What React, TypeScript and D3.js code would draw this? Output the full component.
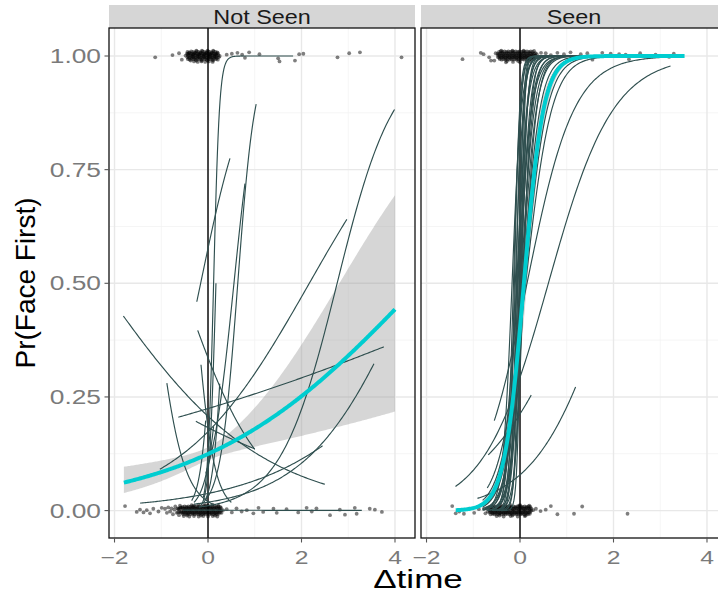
import React from "react";
import * as d3 from "d3";

const W = 718;
const H = 594;
const FONT = "'Liberation Sans', Arial, Helvetica, sans-serif";

const panelNames = ["Not Seen", "Seen"];
const xTicks = [-2, 0, 2, 4];
const xTickLabels = ["\u22122", "0", "2", "4"];
const xMinor = [-1, 1, 3];
const yTicks = [0, 0.25, 0.5, 0.75, 1];
const yTickLabels = ["0.00", "0.25", "0.50", "0.75", "1.00"];
const yMinor = [0.125, 0.375, 0.625, 0.875];

// population fit (logit scale) per panel
const fitIntercept = [-1.95, -0.4];
const fitSlope = [0.43, 4.8];
const fitXmin = [-1.8, -1.375];
const fitXmax = [4.0, 3.52];
const bandSe0 = [0.13, 0.32];
const bandSe1 = [0.26, 0.04];

// per-subject fits, Not Seen
const nsIntercept = [-1.91, -3.45, 0.31, -2.22, -4.53, -1.56, -1.34, -1.24, -1.5, -3.9, -0.68, -3.24, -3.97, -7.0, -2.38, -1.0, -2.2, -1.5, -3.2];
const nsSlope = [16, 5.42, 1.97, 4.0, 1.64, 0.72, -0.58, 0.177, -0.35, -3.36, -1.18, 0.59, 0.91, -0.3, 14, 8, 6, -5, 9];
const nsXmin = [-0.1, -0.05, -0.24, -0.05, -0.2, -1.03, -1.81, -0.635, -0.26, -0.88, -0.22, -1.45, -0.3, -0.53, -0.15, -0.35, -0.3, -0.15, -0.1];
const nsXmax = [1.82, 1.03, 0.47, 0.79, 3.99, 2.97, 2.5, 3.76, 1.0, 0.1, 1.0, 2.45, 3.55, 3.29, 0.17, -0.05, 0.12, 0.5, 0.25];

// per-subject fits, Seen
const sIntercept = [1.7, 1.96, 2.16, 1.2, 1.6, 0.63, 0.75, 0.44, 0.44, 0.08, 0, -0.1, -0.14, -0.48, -0.26, -0.45, -0.33, -0.84, -0.4, -0.42, -0.432, -0.5, 0.39, -0.675, -0.88, -0.3, -2.46, -1.31];
const sSlope = [10, 14, 18, 12, 20, 9, 15, 11, 22, 8, 13, 10, 7, 16, 6.5, 9, 5.5, 12, 5, 4.2, 3.6, 25, 6.5, 7.5, 1.45, 2.0, 1.24, 0.97];
const sXmin = [-0.75, -0.6, -0.55, -0.7, -0.5, -0.8, -0.6, -0.65, -0.45, -0.8, -0.6, -0.7, -0.75, -0.5, -0.8, -0.6, -0.75, -0.55, -0.7, -0.8, -0.7, -0.4, -0.8, -0.6, -1.38, -0.55, -0.91, -0.68];
const sXmax = [1.2, 1.6, 0.9, 2.0, 1.1, 1.5, 2.2, 1.3, 1.8, 2.5, 1.4, 1.9, 2.3, 1.7, 2.8, 2.1, 1.6, 2.6, 3.0, 2.4, 3.1, 1.0, 1.8, 2.0, 3.22, 3.3, 1.19, 0.24];

// jittered observations
const nsTopPts = [
  [-1.13, 0.997], [-0.76, 1.002], [-0.62, 1.006], [-0.56, 0.992], [0.4, 1.003], [0.51, 1.005], [0.63, 1.007], [0.73, 1.003], [0.79, 0.996], [0.88, 1.008], [1.1, 1.004], [1.5, 0.995], [1.53, 0.988], [1.86, 0.99], [1.95, 1.004], [2.04, 1.005], [2.77, 0.997], [3.02, 1.006], [3.25, 1.008], [4.14, 0.997],
  [-0.44, 1.009], [-0.4, 1.008], [-0.36, 1.01], [-0.32, 1.009], [-0.28, 1.008], [-0.24, 1.01], [-0.2, 1.009], [-0.16, 1.008], [-0.12, 1.01], [-0.08, 1.009], [-0.04, 1.008], [0.0, 1.01], [0.04, 1.009], [0.08, 1.008], [0.12, 1.01], [0.16, 1.009], [0.2, 1.008],
  [-0.48, 1.001], [-0.42, 1.0], [-0.38, 1.002], [-0.34, 1.001], [-0.3, 1.0], [-0.26, 1.002], [-0.22, 1.001], [-0.18, 1.0], [-0.14, 1.002], [-0.1, 1.001], [-0.06, 1.0], [-0.02, 1.002], [0.02, 1.001], [0.06, 1.0], [0.1, 1.002], [0.14, 1.001], [0.18, 1.0], [0.22, 1.002], [0.25, 1.0],
  [-0.43, 0.993], [-0.39, 0.992], [-0.35, 0.994], [-0.31, 0.993], [-0.27, 0.992], [-0.23, 0.994], [-0.19, 0.993], [-0.15, 0.992], [-0.11, 0.994], [-0.07, 0.993], [-0.03, 0.992], [0.01, 0.994], [0.05, 0.993], [0.09, 0.992], [0.13, 0.994], [0.17, 0.993], [0.21, 0.992],
  [-0.3, 0.988], [-0.22, 0.987], [-0.14, 0.988], [-0.06, 0.987], [0.02, 0.988], [0.1, 0.987], [-0.25, 1.012], [-0.13, 1.012], [-0.01, 1.012], [0.11, 1.012]
];
const nsTopDense = [
  [-0.45, 1.005], [-0.42, 1.005], [-0.39, 1.006], [-0.36, 1.005], [-0.33, 1.004], [-0.3, 1.005], [-0.27, 1.006], [-0.24, 1.005], [-0.21, 1.004], [-0.18, 1.005], [-0.15, 1.006], [-0.12, 1.005], [-0.09, 1.004], [-0.06, 1.005], [-0.03, 1.006], [0.0, 1.005], [0.03, 1.004], [0.06, 1.005], [0.09, 1.006], [0.12, 1.005], [0.15, 1.004], [0.18, 1.005], [0.21, 1.006],
  [-0.44, 0.997], [-0.41, 0.996], [-0.38, 0.997], [-0.35, 0.998], [-0.32, 0.997], [-0.29, 0.996], [-0.26, 0.997], [-0.23, 0.998], [-0.2, 0.997], [-0.17, 0.996], [-0.14, 0.997], [-0.11, 0.998], [-0.08, 0.997], [-0.05, 0.996], [-0.02, 0.997], [0.01, 0.998], [0.04, 0.997], [0.07, 0.996], [0.1, 0.997], [0.13, 0.998], [0.16, 0.997], [0.19, 0.996], [0.23, 0.997],
  [-0.43, 1.003], [-0.37, 0.99], [-0.31, 1.003], [-0.25, 0.99], [-0.19, 1.003], [-0.13, 0.99], [-0.07, 1.003], [-0.01, 0.99], [0.05, 1.003], [0.11, 0.99], [0.17, 1.003]
];
const nsBottomPts = [
  [-1.775, 0.01], [-1.525, -0.003], [-1.455, 0.002], [-1.38, -0.004], [-1.31, 0.001], [-1.24, -0.006], [-1.17, 0.004], [-1.06, -0.002], [-0.99, 0.006], [0.4, 0.003], [0.51, -0.004], [0.61, 0.005], [0.72, -0.002], [0.83, 0.001], [0.97, -0.006], [1.08, 0.006], [1.18, -0.003], [1.4, 0.004], [1.47, -0.005], [1.68, 0.003], [1.93, -0.004], [2.11, 0.006], [2.22, -0.002], [2.32, 0.005], [2.61, -0.01], [2.82, 0.002], [2.93, -0.009], [3.14, 0.006], [3.18, -0.007], [3.46, 0.004], [3.57, 0.002], [3.72, -0.003],
  [-0.92, 0.004], [-0.88, -0.005], [-0.85, 0.007], [-0.81, -0.002], [-0.78, 0.005], [-0.75, -0.008], [-0.72, 0.002], [-0.7, 0.009], [-0.67, -0.005], [-0.64, 0.003], [-0.62, -0.01], [-0.59, 0.007], [-0.57, -0.002],
  [-0.54, 0.008], [-0.5, 0.009], [-0.46, 0.008], [-0.42, 0.009], [-0.38, 0.008], [-0.34, 0.009], [-0.3, 0.008], [-0.26, 0.009], [-0.22, 0.008], [-0.18, 0.009], [-0.14, 0.008], [-0.1, 0.009], [-0.06, 0.008], [-0.02, 0.009], [0.02, 0.008], [0.06, 0.009], [0.1, 0.008], [0.14, 0.009], [0.18, 0.008], [0.22, 0.009], [0.26, 0.008],
  [-0.52, 0.0], [-0.48, 0.001], [-0.44, 0.0], [-0.4, 0.001], [-0.36, 0.0], [-0.32, 0.001], [-0.28, 0.0], [-0.24, 0.001], [-0.2, 0.0], [-0.16, 0.001], [-0.12, 0.0], [-0.08, 0.001], [-0.04, 0.0], [0.0, 0.001], [0.04, 0.0], [0.08, 0.001], [0.12, 0.0], [0.16, 0.001], [0.2, 0.0], [0.24, 0.001], [0.28, 0.0], [0.32, 0.001],
  [-0.53, -0.008], [-0.49, -0.007], [-0.45, -0.008], [-0.41, -0.007], [-0.37, -0.008], [-0.33, -0.007], [-0.29, -0.008], [-0.25, -0.007], [-0.21, -0.008], [-0.17, -0.007], [-0.13, -0.008], [-0.09, -0.007], [-0.05, -0.008], [-0.01, -0.007], [0.03, -0.008], [0.07, -0.007], [0.11, -0.008], [0.15, -0.007], [0.19, -0.008], [0.23, -0.007],
  [-0.4, -0.013], [-0.3, -0.012], [-0.2, -0.013], [-0.1, -0.012], [0.0, -0.013], [0.1, -0.012], [0.2, -0.013], [-0.35, 0.012], [-0.2, 0.013], [-0.05, 0.012], [0.1, 0.013]
];
const nsBottomDense = [
  [-0.65, 0.005], [-0.62, 0.004], [-0.59, 0.005], [-0.56, 0.006], [-0.53, 0.005], [-0.5, 0.004], [-0.47, 0.005], [-0.44, 0.006], [-0.41, 0.005], [-0.38, 0.004], [-0.35, 0.005], [-0.32, 0.006], [-0.29, 0.005], [-0.26, 0.004], [-0.23, 0.005], [-0.2, 0.006], [-0.17, 0.005], [-0.14, 0.004], [-0.11, 0.005], [-0.08, 0.006], [-0.05, 0.005], [-0.02, 0.004], [0.01, 0.005], [0.04, 0.006], [0.07, 0.005], [0.1, 0.004], [0.13, 0.005], [0.16, 0.006], [0.19, 0.005], [0.22, 0.004], [0.25, 0.005], [0.28, 0.006],
  [-0.64, -0.004], [-0.61, -0.003], [-0.58, -0.004], [-0.55, -0.005], [-0.52, -0.004], [-0.49, -0.003], [-0.46, -0.004], [-0.43, -0.005], [-0.4, -0.004], [-0.37, -0.003], [-0.34, -0.004], [-0.31, -0.005], [-0.28, -0.004], [-0.25, -0.003], [-0.22, -0.004], [-0.19, -0.005], [-0.16, -0.004], [-0.13, -0.003], [-0.1, -0.004], [-0.07, -0.005], [-0.04, -0.004], [-0.01, -0.003], [0.02, -0.004], [0.05, -0.005], [0.08, -0.004], [0.11, -0.003], [0.14, -0.004], [0.17, -0.005], [0.2, -0.004], [0.23, -0.003], [0.26, -0.004], [0.29, -0.005],
  [-0.6, 0.011], [-0.45, -0.011], [-0.3, 0.011], [-0.15, -0.011], [0.0, 0.011], [0.15, -0.011], [-0.52, -0.012], [-0.08, 0.012], [0.22, 0.011]
];
const sTopPts = [
  [-1.23, 0.993], [-0.84, 1.007], [-0.78, 1.004], [-0.66, 0.997], [-0.62, 0.99], [0.55, 1.006], [0.66, 1.002], [0.8, 1.007], [0.94, 1.004], [1.08, 1.008], [1.3, 1.004], [1.44, 1.006], [1.55, 0.992], [1.76, 1.007], [1.94, 1.005], [2.12, 1.004], [2.26, 1.003], [2.33, 0.993], [2.57, 1.006], [2.9, 1.003], [3.19, 0.998], [3.29, 1.005],
  [-0.52, 1.006], [0.36, 1.004], [0.4, 0.995], [0.45, 1.007], [0.51, 0.998], [-0.55, 0.99],
  [-0.45, 1.009], [-0.41, 1.01], [-0.37, 1.009], [-0.33, 1.01], [-0.29, 1.009], [-0.25, 1.01], [-0.21, 1.009], [-0.17, 1.01], [-0.13, 1.009], [-0.09, 1.01], [-0.05, 1.009], [-0.01, 1.01], [0.03, 1.009], [0.07, 1.01], [0.11, 1.009], [0.15, 1.01], [0.19, 1.009], [0.23, 1.01], [0.27, 1.009],
  [-0.47, 1.001], [-0.43, 1.0], [-0.39, 1.001], [-0.35, 1.0], [-0.31, 1.001], [-0.27, 1.0], [-0.23, 1.001], [-0.19, 1.0], [-0.15, 1.001], [-0.11, 1.0], [-0.07, 1.001], [-0.03, 1.0], [0.01, 1.001], [0.05, 1.0], [0.09, 1.001], [0.13, 1.0], [0.17, 1.001], [0.21, 1.0], [0.25, 1.001], [0.29, 1.0], [0.33, 1.001],
  [-0.43, 0.993], [-0.39, 0.992], [-0.35, 0.993], [-0.31, 0.992], [-0.27, 0.993], [-0.23, 0.992], [-0.19, 0.993], [-0.15, 0.992], [-0.11, 0.993], [-0.07, 0.992], [-0.03, 0.993], [0.01, 0.992], [0.05, 0.993], [0.09, 0.992], [0.13, 0.993], [0.17, 0.992], [0.21, 0.993], [0.25, 0.992], [0.29, 0.993],
  [-0.3, 0.986], [-0.15, 0.987], [0.0, 0.986], [0.15, 0.987]
];
const sTopDense = [
  [-0.48, 1.005], [-0.45, 1.004], [-0.42, 1.005], [-0.39, 1.006], [-0.36, 1.005], [-0.33, 1.004], [-0.3, 1.005], [-0.27, 1.006], [-0.24, 1.005], [-0.21, 1.004], [-0.18, 1.005], [-0.15, 1.006], [-0.12, 1.005], [-0.09, 1.004], [-0.06, 1.005], [-0.03, 1.006], [0.0, 1.005], [0.03, 1.004], [0.06, 1.005], [0.09, 1.006], [0.12, 1.005], [0.15, 1.004], [0.18, 1.005], [0.21, 1.006], [0.24, 1.005], [0.27, 1.004], [0.3, 1.005], [0.33, 1.006],
  [-0.47, 0.997], [-0.44, 0.996], [-0.41, 0.997], [-0.38, 0.998], [-0.35, 0.997], [-0.32, 0.996], [-0.29, 0.997], [-0.26, 0.998], [-0.23, 0.997], [-0.2, 0.996], [-0.17, 0.997], [-0.14, 0.998], [-0.11, 0.997], [-0.08, 0.996], [-0.05, 0.997], [-0.02, 0.998], [0.01, 0.997], [0.04, 0.996], [0.07, 0.997], [0.1, 0.998], [0.13, 0.997], [0.16, 0.996], [0.19, 0.997], [0.22, 0.998], [0.25, 0.997], [0.28, 0.996], [0.31, 0.997], [0.34, 0.998],
  [-0.4, 1.012], [-0.28, 0.989], [-0.16, 1.012], [-0.04, 0.989], [0.08, 1.012], [0.2, 0.989], [0.3, 1.011]
];
const sBottomPts = [
  [-1.45, 0.01], [-1.375, -0.006], [-1.3, -0.002], [-1.2, -0.007], [-1.09, 0.004], [-0.98, -0.005], [-0.88, 0.003], [0.34, 0.004], [0.44, -0.001], [0.55, 0.002], [0.66, 0.01], [0.8, -0.008], [1.155, -0.007], [1.33, 0.009], [2.3, -0.007],
  [-0.77, 0.004], [-0.74, -0.006], [-0.71, 0.006], [-0.69, -0.002],
  [-0.66, 0.008], [-0.62, 0.009], [-0.58, 0.008], [-0.54, 0.009], [-0.5, 0.008], [-0.46, 0.009], [-0.42, 0.008], [-0.38, 0.009], [-0.34, 0.008], [-0.3, 0.009], [-0.26, 0.008], [-0.22, 0.009], [-0.18, 0.008], [-0.14, 0.009], [-0.1, 0.008], [-0.06, 0.009], [-0.02, 0.008], [0.02, 0.009], [0.06, 0.008], [0.1, 0.009], [0.14, 0.008], [0.18, 0.009], [0.22, 0.008],
  [-0.64, 0.0], [-0.6, 0.001], [-0.56, 0.0], [-0.52, 0.001], [-0.48, 0.0], [-0.44, 0.001], [-0.4, 0.0], [-0.36, 0.001], [-0.32, 0.0], [-0.28, 0.001], [-0.24, 0.0], [-0.2, 0.001], [-0.16, 0.0], [-0.12, 0.001], [-0.08, 0.0], [-0.04, 0.001], [0.0, 0.0], [0.04, 0.001], [0.08, 0.0], [0.12, 0.001], [0.16, 0.0], [0.2, 0.001], [0.24, 0.0], [0.28, 0.001],
  [-0.63, -0.008], [-0.59, -0.007], [-0.55, -0.008], [-0.51, -0.007], [-0.47, -0.008], [-0.43, -0.007], [-0.39, -0.008], [-0.35, -0.007], [-0.31, -0.008], [-0.27, -0.007], [-0.23, -0.008], [-0.19, -0.007], [-0.15, -0.008], [-0.11, -0.007], [-0.07, -0.008], [-0.03, -0.007], [0.01, -0.008], [0.05, -0.007], [0.09, -0.008], [0.13, -0.007], [0.17, -0.008], [0.21, -0.007],
  [-0.5, -0.012], [-0.35, -0.013], [-0.2, -0.012], [-0.05, -0.013], [0.1, -0.012], [-0.4, 0.012], [-0.2, 0.012], [0.0, 0.012]
];
const sBottomDense = [
  [-0.66, 0.005], [-0.63, 0.004], [-0.6, 0.005], [-0.57, 0.006], [-0.54, 0.005], [-0.51, 0.004], [-0.48, 0.005], [-0.45, 0.006], [-0.42, 0.005], [-0.39, 0.004], [-0.36, 0.005], [-0.33, 0.006], [-0.3, 0.005], [-0.27, 0.004], [-0.24, 0.005], [-0.21, 0.006], [-0.18, 0.005], [-0.15, 0.004], [-0.12, 0.005], [-0.09, 0.006], [-0.06, 0.005], [-0.03, 0.004], [0.0, 0.005], [0.03, 0.006], [0.06, 0.005], [0.09, 0.004], [0.12, 0.005], [0.15, 0.006], [0.18, 0.005], [0.21, 0.004], [0.24, 0.005],
  [-0.65, -0.004], [-0.62, -0.003], [-0.59, -0.004], [-0.56, -0.005], [-0.53, -0.004], [-0.5, -0.003], [-0.47, -0.004], [-0.44, -0.005], [-0.41, -0.004], [-0.38, -0.003], [-0.35, -0.004], [-0.32, -0.005], [-0.29, -0.004], [-0.26, -0.003], [-0.23, -0.004], [-0.2, -0.005], [-0.17, -0.004], [-0.14, -0.003], [-0.11, -0.004], [-0.08, -0.005], [-0.05, -0.004], [-0.02, -0.003], [0.01, -0.004], [0.04, -0.005], [0.07, -0.004], [0.1, -0.003], [0.13, -0.004], [0.16, -0.005], [0.19, -0.004], [0.22, -0.003],
  [-0.58, 0.011], [-0.44, -0.011], [-0.3, 0.011], [-0.16, -0.011], [-0.02, 0.011], [0.12, -0.011], [0.2, 0.011]
];

const panelPts = [
  [nsTopPts, nsTopDense, nsBottomPts, nsBottomDense],
  [sTopPts, sTopDense, sBottomPts, sBottomDense],
];
const panelCurves = [
  [nsIntercept, nsSlope, nsXmin, nsXmax],
  [sIntercept, sSlope, sXmin, sXmax],
];

const PANEL_LEFT = [109, 421];
const PANEL_W = 306;
const PANEL_TOP = 28;
const PANEL_BOTTOM = 538;
const STRIP_TOP = 5;

const logistic = (z: number) => 1 / (1 + Math.exp(-z));
const sampleXs = (x0: number, x1: number, n: number) =>
  d3.range(n + 1).map((i) => x0 + ((x1 - x0) * i) / n);

export default function App() {
  const y = d3.scaleLinear().domain([-0.0603, 1.0616]).range([PANEL_BOTTOM, PANEL_TOP]);

  const panels = panelNames.map((name, pi) => {
    const left = PANEL_LEFT[pi];
    const x = d3.scaleLinear().domain([-2.118, 4.428]).range([left, left + PANEL_W]);
    const line = d3
      .line<[number, number]>()
      .x((d) => x(d[0]))
      .y((d) => y(d[1]));
    const area = d3
      .area<[number, number, number]>()
      .x((d) => x(d[0]))
      .y0((d) => y(d[1]))
      .y1((d) => y(d[2]));

    const a0 = fitIntercept[pi];
    const b0 = fitSlope[pi];
    const fxs = sampleXs(fitXmin[pi], fitXmax[pi], 240);
    const fitPts = fxs.map((xv) => [xv, logistic(a0 + b0 * xv)] as [number, number]);
    const bandPts = fxs.map((xv) => {
      const l = a0 + b0 * xv;
      const h = Math.sqrt(bandSe0[pi] ** 2 + bandSe1[pi] ** 2 * xv * xv);
      return [xv, logistic(l - h), logistic(l + h)] as [number, number, number];
    });

    const [ia, sb, xmn, xmx] = panelCurves[pi];
    const subjPaths = ia.map((a, k) => {
      const xs = sampleXs(xmn[k], xmx[k], 140);
      return line(xs.map((xv) => [xv, logistic(a + sb[k] * xv)] as [number, number]));
    });

    const clipId = `clip-${pi}`;
    return (
      <g key={name}>
        <defs>
          <clipPath id={clipId}>
            <rect x={left} y={PANEL_TOP} width={PANEL_W} height={PANEL_BOTTOM - PANEL_TOP} />
          </clipPath>
        </defs>
        <rect x={left} y={STRIP_TOP} width={PANEL_W} height={PANEL_TOP - STRIP_TOP} fill="#d6d6d6" />
        <text
          transform={`translate(${left + PANEL_W / 2},24) scale(1.2,1)`}
          textAnchor="middle"
          fontSize={19.5}
          fontFamily={FONT}
          fill="#1a1a1a"
        >
          {name}
        </text>
        <rect x={left} y={PANEL_TOP} width={PANEL_W} height={PANEL_BOTTOM - PANEL_TOP} fill="#ffffff" />
        <g clipPath={`url(#${clipId})`}>
          {xMinor.map((v) => (
            <line key={`xm${v}`} x1={x(v)} x2={x(v)} y1={PANEL_TOP} y2={PANEL_BOTTOM} stroke="#f2f2f2" strokeWidth={0.8} />
          ))}
          {yMinor.map((v) => (
            <line key={`ym${v}`} x1={left} x2={left + PANEL_W} y1={y(v)} y2={y(v)} stroke="#f2f2f2" strokeWidth={0.8} />
          ))}
          {xTicks.map((v) => (
            <line key={`xg${v}`} x1={x(v)} x2={x(v)} y1={PANEL_TOP} y2={PANEL_BOTTOM} stroke="#e8e8e8" strokeWidth={1.4} />
          ))}
          {yTicks.map((v) => (
            <line key={`yg${v}`} x1={left} x2={left + PANEL_W} y1={y(v)} y2={y(v)} stroke="#e8e8e8" strokeWidth={1.4} />
          ))}
          <line x1={x(0)} x2={x(0)} y1={PANEL_TOP} y2={PANEL_BOTTOM} stroke="#000" strokeWidth={1.4} />
          <path d={area(bandPts) || ""} fill="#999999" fillOpacity={0.4} />
          {panelPts[pi].map((pts, gi) =>
            pts.map((p, j) => (
              <circle key={`p${gi}-${j}`} cx={x(p[0])} cy={y(p[1])} r={1.9} fill="#000" fillOpacity={0.5} />
            ))
          )}
          {subjPaths.map((d, k) => (
            <path key={`s${k}`} d={d || ""} fill="none" stroke="#2f4f4f" strokeWidth={1.15} />
          ))}
          <path d={line(fitPts) || ""} fill="none" stroke="#00cdd0" strokeWidth={4} />
        </g>
        <rect
          x={left}
          y={PANEL_TOP}
          width={PANEL_W}
          height={PANEL_BOTTOM - PANEL_TOP}
          fill="none"
          stroke="#111"
          strokeWidth={1.3}
        />
        {xTicks.map((v, i) => (
          <g key={`xt${v}`}>
            <line x1={x(v)} x2={x(v)} y1={PANEL_BOTTOM} y2={PANEL_BOTTOM + 4.5} stroke="#555" strokeWidth={1.1} />
            <text
              transform={`translate(${x(v)},563.5) scale(1.3,1)`}
              textAnchor="middle"
              fontSize={19}
              fontFamily={FONT}
              fill="#7a7a7a"
            >
              {xTickLabels[i]}
            </text>
          </g>
        ))}
      </g>
    );
  });

  return (
    <svg
      width={W}
      height={H}
      viewBox={`0 0 ${W} ${H}`}
      style={{ position: "absolute", left: 0, top: 0, background: "#fff" }}
    >
      <rect x={0} y={0} width={W} height={H} fill="#fff" />
      {panels}
      {yTicks.map((v, i) => (
        <g key={`yt${v}`}>
          <line x1={PANEL_LEFT[0] - 4.5} x2={PANEL_LEFT[0]} y1={y(v)} y2={y(v)} stroke="#555" strokeWidth={1.1} />
          <text
            transform={`translate(101,${y(v) + 7}) scale(1.35,1)`}
            textAnchor="end"
            fontSize={19.5}
            fontFamily={FONT}
            fill="#7a7a7a"
          >
            {yTickLabels[i]}
          </text>
        </g>
      ))}
      <text
        transform={`translate(35,${(PANEL_TOP + PANEL_BOTTOM) / 2}) rotate(-90)`}
        textAnchor="middle"
        fontSize={28}
        fontFamily={FONT}
        textLength={171}
        lengthAdjust="spacingAndGlyphs"
        fill="#000"
      >
        Pr(Face First)
      </text>
      <text
        transform={`translate(418,588) scale(1.35,1)`}
        textAnchor="middle"
        fontSize={26}
        fontFamily={FONT}
        fill="#000"
      >
        Δtime
      </text>
    </svg>
  );
}
